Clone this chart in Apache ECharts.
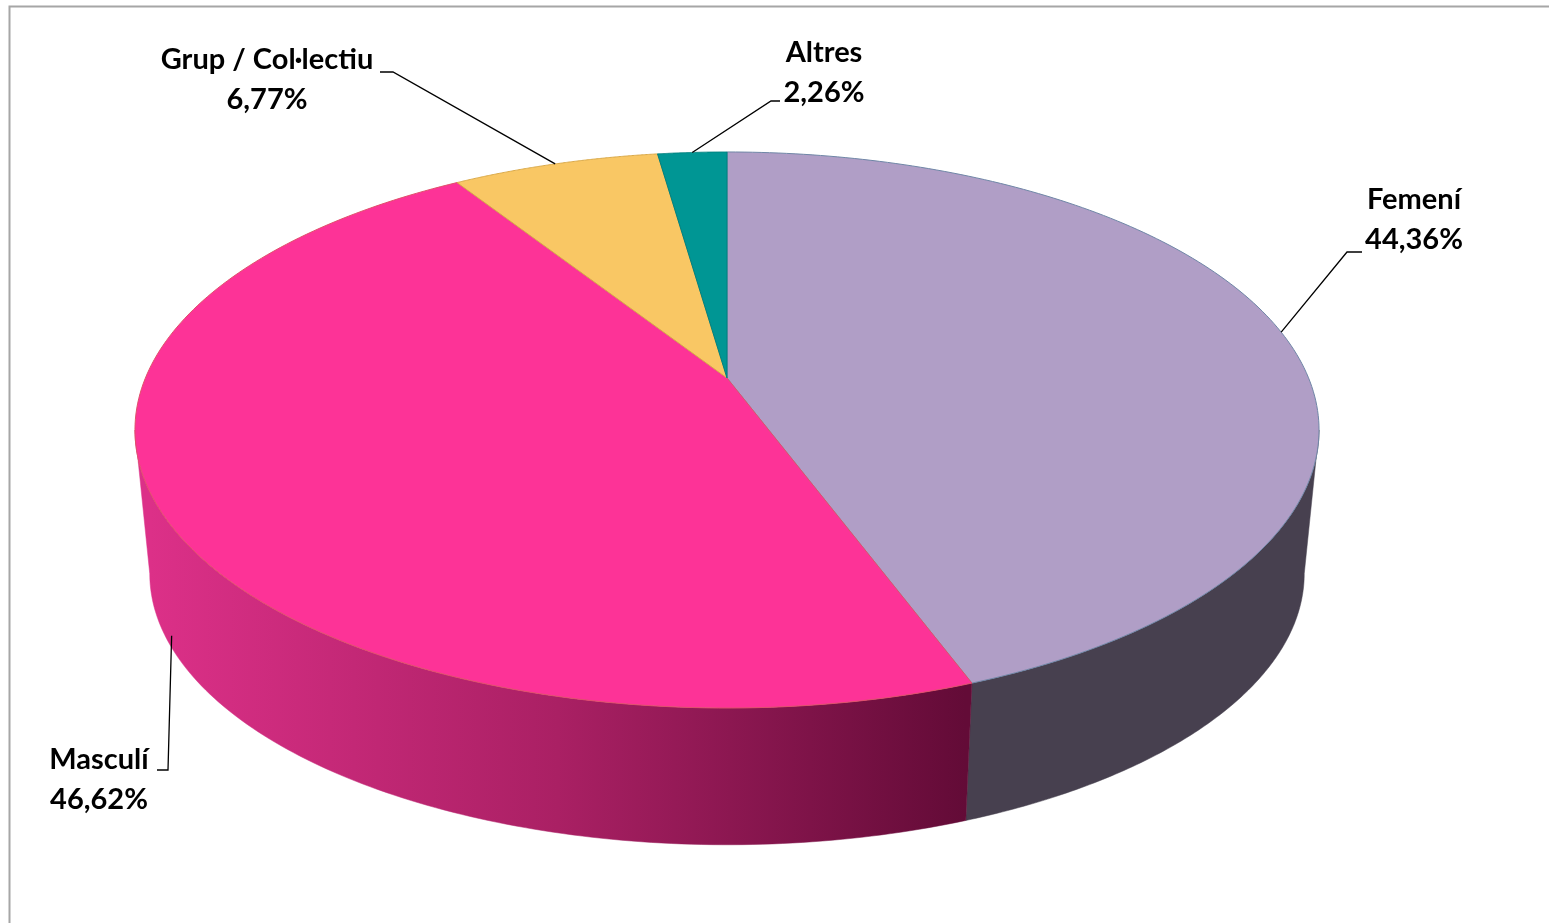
<!DOCTYPE html>
<html>
<head>
<meta charset="utf-8">
<script src="https://cdn.jsdelivr.net/npm/echarts@6/dist/echarts.min.js"></script>
<style>
html,body{margin:0;padding:0;background:#fff;}
#chart{width:1549px;height:923px;}
</style>
</head>
<body>
<div id="chart"></div>
<script>
// ---- data ----
var categories = ['Femení', 'Masculí', 'Grup / Col·lectiu', 'Altres'];
var shares = [44.36, 46.62, 6.77, 2.26];

// ---- styles ----
var topColors = ['#B09EC6', '#FD3397', '#F9C764', '#009694'];
var edgeColors = ['#6F86A6', '#E0506A', '#D9A94A', '#00807E'];
var sideColors = [
  '#47404F',
  {type:'linear', x:150, y:0, x2:965, y2:0, global:true,
   colorStops:[{offset:0,color:'#DC3088'},{offset:0.5,color:'#AA2064'},{offset:1,color:'#630B37'}]},
  '#C79A45',
  '#00706E'
];

// ---- layout (pie projection & label placement) ----
var geo = {cx:727, cy:378, A:581.6, B:268.3, k:0.187, s:0.975, cyb:523};
// label block centre, elbow point, line end (layout only)
var labelLayout = [
  {c:[1414,220], elbow:[1347,252], end:[1362,252], anchorDepth:0},
  {c:[99,780],   elbow:[168,770],  end:[157,770],  anchorDepth:0.9},
  {c:[267,80],   elbow:[393,72],   end:[380,72],   anchorDepth:0},
  {c:[824,73],   elbow:[771,101],  end:[780,101],  anchorDepth:0}
];

function topPt(t){
  var w = 1 + geo.k*Math.cos(t);
  return [geo.cx + geo.A*Math.sin(t)/w, geo.cy - geo.B*Math.cos(t)/w];
}
function botPt(t){
  var w = 1 + geo.k*Math.cos(t);
  return [geo.cx + geo.s*geo.A*Math.sin(t)/w, geo.cyb - geo.s*geo.B*Math.cos(t)/w];
}
function arc(fn, a0, a1, n){
  var pts=[];
  for(var i=0;i<=n;i++){ pts.push(fn(a0+(a1-a0)*i/n)); }
  return pts;
}

var total = shares.reduce(function(a,b){return a+b;},0);
var startAngles = [], acc = 0;
shares.forEach(function(v){ startAngles.push(acc/total*2*Math.PI); acc += v; });

// silhouette angles (widest points of the projected rim)
var thetaW = Math.acos(-geo.k);

function fmt(v){ return v.toFixed(2).replace('.', ',') + '%'; }

var chart = echarts.init(document.getElementById('chart'));

function renderSide(params, api){
  var i = params.dataIndex;
  var a0 = startAngles[i], a1 = a0 + api.value(1)/total*2*Math.PI;
  var lo = Math.max(a0, thetaW), hi = Math.min(a1, 2*Math.PI - thetaW);
  if (hi <= lo) return null;
  var top = arc(topPt, lo, hi, 120);
  var bot = arc(botPt, lo, hi, 120).reverse();
  return {
    type:'polygon',
    shape:{points: top.concat(bot)},
    style:{fill: sideColors[i], stroke: sideColors[i], lineWidth:0.5}
  };
}

function renderTop(params, api){
  var i = params.dataIndex;
  var a0 = startAngles[i], a1 = a0 + api.value(1)/total*2*Math.PI;
  var pts = [[geo.cx, geo.cy]].concat(arc(topPt, a0, a1, 160));
  var mid = (a0+a1)/2;
  var L = labelLayout[i];
  var tp = topPt(mid), bp = botPt(mid);
  var anchor = [tp[0] + (bp[0]-tp[0])*L.anchorDepth, tp[1] + (bp[1]-tp[1])*L.anchorDepth];
  return {
    type:'group',
    children:[
      {type:'polygon', shape:{points:pts},
       style:{fill: topColors[i], stroke: edgeColors[i], lineWidth:1}},
      {type:'polyline', shape:{points:[anchor, L.elbow, L.end]},
       style:{stroke:'#000', lineWidth:1.3, fill:null}, z2:10},
      {type:'text', x:L.c[0], y:L.c[1], z2:10,
       style:{text: categories[i] + '\n' + fmt(api.value(1)),
              fill:'#000', font:'bold 29px Lato', lineHeight:40,
              align:'center', verticalAlign:'middle'}}
    ]
  };
}

var seriesData = shares.map(function(v, i){ return [i, v]; });

chart.setOption({
  animation:false,
  graphic:[{type:'rect', shape:{x:9.5, y:6.5, width:1700, height:1000},
            style:{fill:'none', stroke:'#A6A6A6', lineWidth:2}, z:-10}],
  series:[
    {type:'custom', coordinateSystem:'none', renderItem:renderSide, data:seriesData, z:1, silent:true},
    {type:'custom', coordinateSystem:'none', renderItem:renderTop, data:seriesData, z:2, silent:true}
  ]
});
</script>
</body>
</html>
